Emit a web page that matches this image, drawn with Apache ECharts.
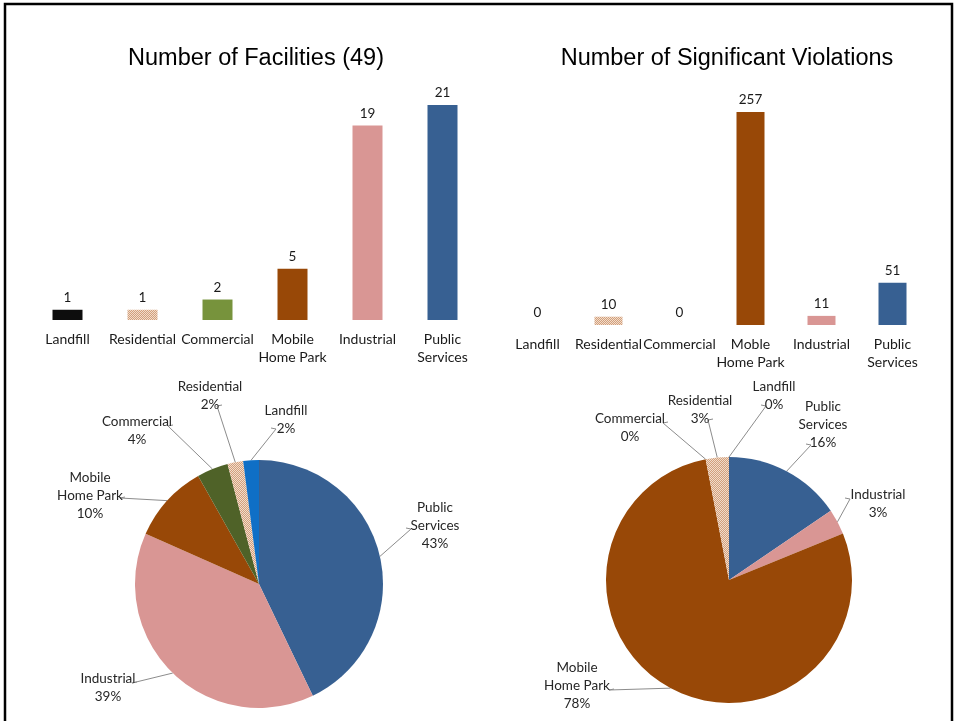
<!DOCTYPE html>
<html><head><meta charset="utf-8">
<script src="https://cdn.jsdelivr.net/npm/echarts@6/dist/echarts.min.js"></script>
<style>html,body{margin:0;padding:0;background:#fff}#c{width:956px;height:721px}</style>
</head><body><div id="c"></div>
<script>
// ---- data ----
const facilityCategories = ['Landfill', 'Residential', 'Commercial', 'Mobile\nHome Park', 'Industrial', 'Public\nServices'];
const facilityCounts = [1, 1, 2, 5, 19, 21];
const violationCategories = ['Landfill', 'Residential', 'Commercial', 'Moble\nHome Park', 'Industrial', 'Public\nServices'];
const violationCounts = [0, 10, 0, 257, 11, 51];
const titles = ['Number of Facilities (49)', 'Number of Significant Violations'];

// ---- styles ----
function hatch() {
  const c = document.createElement('canvas'); c.width = 4; c.height = 4;
  const g = c.getContext('2d');
  g.fillStyle = '#d2a07c'; g.fillRect(0, 0, 4, 4);
  g.fillStyle = '#f2dccb';
  for (let i = 0; i < 4; i++) { g.fillRect(i, (i + 0) % 4, 1, 1); g.fillRect(i, (i + 2) % 4, 1, 1); }
  return { image: c, repeat: 'repeat' };
}
const resPattern = hatch();
const barColors = ['#0d0d0d', resPattern, '#77933c', '#984807', '#d99694', '#376092'];
const pieColors = ['#0f6fc6', resPattern, '#4f6228', '#984807', '#d99694', '#376092'];
const FONT = 'Lato';

// label layout (center of text block, end of leader line) keyed by name
const leftLabelPos = {
  'Public Services': { c: [435, 526], end: [406, 528], dir: -1 },
  'Industrial': { c: [108, 688], end: [137, 682], dir: 1 },
  'Mobile Home Park': { c: [90, 496], end: [125, 497], dir: 1 },
  'Commercial': { c: [137, 431], end: [173, 425], dir: 1 },
  'Residential': { c: [210, 396], end: [222, 405], dir: 1 },
  'Landfill': { c: [286, 420], end: [271, 428], dir: -1 }
};
const rightLabelPos = {
  'Public Services': { c: [823, 425], end: [806, 444], dir: -1 },
  'Industrial': { c: [878, 504], end: [845, 498], dir: -1 },
  'Mobile Home Park': { c: [577, 686], end: [614, 689], dir: 1 },
  'Commercial': { c: [630, 428], end: [668, 422], dir: 1 },
  'Residential': { c: [700, 410], end: [713, 419], dir: 1 },
  'Landfill': { c: [774, 396], end: [761, 405], dir: -1 }
};

function pieData(values, colors) {
  const idx = [5, 4, 3, 2, 1, 0];
  return idx.map(i => ({
    name: facilityCategories[i].replace('\n', ' '),
    value: values[i],
    itemStyle: { color: colors[i] }
  }));
}

function barSeries(values, gridIdx, bw) {
  return {
    type: 'bar', xAxisIndex: gridIdx, yAxisIndex: gridIdx, barWidth: bw,
    data: values.map((v, i) => ({ value: v, itemStyle: { color: barColors[i] } })),
    label: { show: true, position: 'top', distance: 5, fontFamily: FONT, fontSize: 13.5, color: '#1a1a1a' },
    silent: true
  };
}

function pieSeries(values, center, radius, posMap) {
  const items = pieData(values, pieColors);
  return {
    type: 'pie', center: center, radius: radius, startAngle: 90, clockwise: true,
    data: items, silent: true, animation: false,
    avoidLabelOverlap: false,
    label: {
      show: true, position: 'outside', fontFamily: FONT, fontSize: 13.5, color: '#262626', lineHeight: 18,
      formatter: p => p.name.replace(' ', '\n') + '\n' + Math.round(p.percent) + '%'
    },
    labelLine: { show: true, length: 10, length2: 5, lineStyle: { color: '#8c8c8c', width: 1 } },
    labelLayout: function (params) {
      const pos = posMap[items[params.dataIndex].name];
      const start = params.labelLinePoints ? params.labelLinePoints[0] : pos.end;
      return {
        x: pos.c[0], y: pos.c[1], align: 'center', verticalAlign: 'middle',
        labelLinePoints: [start, [pos.end[0] - pos.dir * 5, pos.end[1] + 1], pos.end]
      };
    }
  };
}

const axisLabel = { interval: 0, fontFamily: FONT, fontSize: 14, color: '#1a1a1a', lineHeight: 18, margin: 10 };

const option = {
  animation: false,
  backgroundColor: '#fff',
  title: [
    { text: titles[0], left: 251, top: 42, textAlign: 'center', textStyle: { fontFamily: 'Liberation Sans', fontSize: 23.5, fontWeight: 'normal', color: '#000' } },
    { text: titles[1], left: 722, top: 42, textAlign: 'center', textStyle: { fontFamily: 'Liberation Sans', fontSize: 23.5, fontWeight: 'normal', color: '#000' } }
  ],
  grid: [
    { left: 30, top: 105, width: 450, height: 215 },
    { left: 502, top: 112, width: 426, height: 213 }
  ],
  xAxis: [
    { type: 'category', gridIndex: 0, data: facilityCategories, axisLine: { show: false }, axisTick: { show: false }, axisLabel: axisLabel },
    { type: 'category', gridIndex: 1, data: violationCategories, axisLine: { show: false }, axisTick: { show: false }, axisLabel: axisLabel }
  ],
  yAxis: [
    { type: 'value', gridIndex: 0, min: 0, max: 21, show: false, splitLine: { show: false } },
    { type: 'value', gridIndex: 1, min: 0, max: 257, show: false, splitLine: { show: false } }
  ],
  series: [
    barSeries(facilityCounts, 0, 30),
    barSeries(violationCounts, 1, 28),
    pieSeries(facilityCounts, [259, 584], 124, leftLabelPos),
    pieSeries(violationCounts, [729, 580], 123, rightLabelPos)
  ],
  graphic: [
    { type: 'rect', shape: { x: 5, y: 4, width: 947, height: 740 }, style: { fill: 'none', stroke: '#000', lineWidth: 2.5 }, silent: true, z: 100 }
  ]
};

const chart = echarts.init(document.getElementById('c'), null, { renderer: 'canvas' });
chart.setOption(option);
</script>
</body></html>
